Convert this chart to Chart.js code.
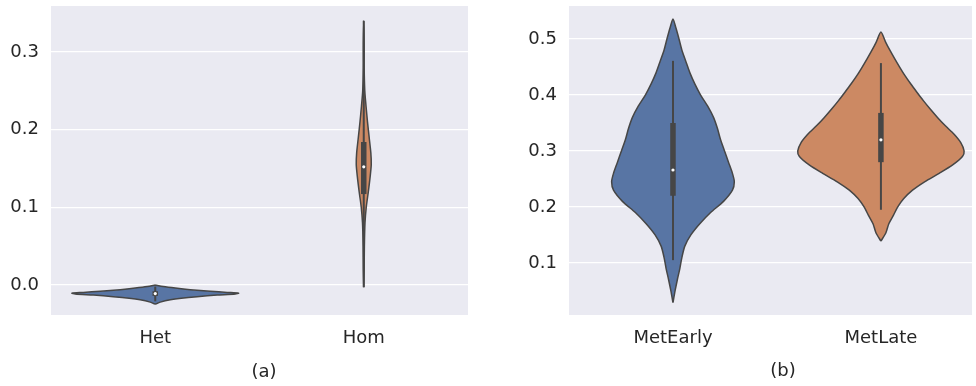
<!DOCTYPE html>
<html>
<head>
  <meta charset="utf-8">
  <title>Violin plots</title>
  <script src="https://cdn.jsdelivr.net/npm/chart.js@4.4.0/dist/chart.umd.min.js"></script>
  <style>
    body {
      margin: 0;
      background: #fff;
      width: 976px;
      height: 386px;
      overflow: hidden;
      position: relative;
      font-family: 'DejaVu Sans', sans-serif;
    }
    .panel {
      position: absolute;
      top: 0;
      height: 386px;
    }
    #panelA { left: 0; width: 480px; }
    #panelB { left: 490px; width: 486px; }
    .caption {
      position: absolute;
      font-size: 18px;
      line-height: 1;
      color: #262626;
      transform: translate(-50%, -50%);
      white-space: nowrap;
    }
  </style>
</head>
<body>
  <div class="panel" id="panelA"><canvas id="chartA"></canvas></div>
  <div class="panel" id="panelB"><canvas id="chartB"></canvas></div>
  <div class="caption" style="left:264px; top:371px;">(a)</div>
  <div class="caption" style="left:783px; top:370px;">(b)</div>

  <script>
    // (a) Het / Hom
    const catsA = ['Het', 'Hom'];
    const yTicksA = [0.0, 0.1, 0.2, 0.3];
    // violin outline: values and half widths (in category units)
    const hetValues = [0.0, -0.002, -0.004, -0.006, -0.008, -0.0095, -0.0105, -0.0115, -0.013, -0.015, -0.017, -0.019, -0.022, -0.0245];
    const hetWidths = [0, 0.038, 0.096, 0.168, 0.264, 0.345, 0.400, 0.384, 0.297, 0.201, 0.125, 0.072, 0.024, 0];
    const homValues = [-0.003, 0.02, 0.05, 0.08, 0.10, 0.12, 0.14, 0.155, 0.17, 0.19, 0.21, 0.23, 0.25, 0.28, 0.31, 0.34];
    const homWidths = [0, 0.002, 0.003, 0.006, 0.012, 0.022, 0.031, 0.036, 0.034, 0.026, 0.018, 0.011, 0.005, 0.002, 0.002, 0];
    // whisker low, q1, median, q3, whisker high
    const hetStats = [-0.021, -0.014, -0.011, -0.008, -0.002];
    const homStats = [-0.003, 0.117, 0.152, 0.184, 0.340];

    // (b) MetEarly / MetLate
    const catsB = ['MetEarly', 'MetLate'];
    const yTicksB = [0.1, 0.2, 0.3, 0.4, 0.5];
    const earlyValues = [0.029, 0.05, 0.07, 0.09, 0.11, 0.13, 0.15, 0.17, 0.19, 0.21, 0.23, 0.245, 0.26, 0.28, 0.30, 0.32, 0.34, 0.36, 0.38, 0.40, 0.42, 0.44, 0.46, 0.48, 0.50, 0.52, 0.536];
    const earlyWidths = [0, 0.010, 0.021, 0.033, 0.043, 0.057, 0.086, 0.129, 0.181, 0.243, 0.286, 0.295, 0.286, 0.267, 0.248, 0.229, 0.214, 0.195, 0.167, 0.133, 0.105, 0.081, 0.062, 0.043, 0.029, 0.014, 0];
    const lateValues = [0.139, 0.154, 0.17, 0.185, 0.20, 0.215, 0.23, 0.245, 0.26, 0.275, 0.29, 0.30, 0.315, 0.33, 0.345, 0.36, 0.375, 0.39, 0.405, 0.42, 0.435, 0.45, 0.465, 0.48, 0.495, 0.5125];
    const lateWidths = [0, 0.024, 0.038, 0.060, 0.081, 0.110, 0.152, 0.210, 0.280, 0.345, 0.392, 0.400, 0.384, 0.352, 0.310, 0.272, 0.237, 0.204, 0.173, 0.143, 0.115, 0.090, 0.066, 0.043, 0.022, 0];
    const earlyStats = [0.105, 0.220, 0.266, 0.350, 0.461];
    const lateStats = [0.195, 0.280, 0.320, 0.368, 0.457];

    const BLUE = '#5875a4';
    const ORANGE = '#cc8963';
    const EDGE = '#464646';
    const TEXT = '#262626';
    const FONT = { family: 'DejaVu Sans', size: 18 };

    // closed outline: up the right side, back down the left side
    function violinPoints(center, values, widths) {
      const pts = [];
      for (let i = 0; i < values.length; i++) pts.push({ x: center + widths[i], y: values[i] });
      for (let i = values.length - 2; i >= 0; i--) pts.push({ x: center - widths[i], y: values[i] });
      return pts;
    }

    function violinDatasets(center, values, widths, stats, color) {
      return [
        {
          data: violinPoints(center, values, widths),
          fill: 'shape',
          backgroundColor: color,
          borderColor: EDGE,
          borderWidth: 1.5,
          borderJoinStyle: 'round',
          tension: 0.25,
          pointRadius: 0,
          order: 3
        },
        {
          data: [{ x: center, y: stats[0] }, { x: center, y: stats[4] }],
          borderColor: EDGE,
          borderWidth: 2,
          pointRadius: 0,
          fill: false,
          order: 2
        },
        {
          data: [{ x: center, y: stats[1] }, { x: center, y: stats[3] }],
          borderColor: EDGE,
          borderWidth: 5.5,
          borderCapStyle: 'butt',
          pointRadius: 0,
          fill: false,
          order: 1
        },
        {
          data: [{ x: center, y: stats[2] }],
          showLine: false,
          pointRadius: 1.6,
          pointBorderWidth: 0,
          pointBackgroundColor: '#ffffff',
          order: 0
        }
      ];
    }

    // grey plot background behind the grid
    const plotBackground = {
      id: 'plotBackground',
      beforeDraw(chart) {
        const { ctx, chartArea: a } = chart;
        ctx.save();
        ctx.fillStyle = '#eaeaf2';
        ctx.fillRect(a.left, a.top, a.right - a.left, a.bottom - a.top);
        ctx.restore();
      }
    };

    function makeChart(id, cats, yTicks, yMin, yMax, xMax, axisWidth, rightPad, datasets) {
      return new Chart(document.getElementById(id), {
        type: 'line',
        data: { datasets: datasets },
        plugins: [plotBackground],
        options: {
          responsive: true,
          maintainAspectRatio: false,
          animation: false,
          events: [],
          layout: { padding: { top: 6, right: rightPad, left: 0, bottom: 0 } },
          plugins: { legend: { display: false }, tooltip: { enabled: false } },
          scales: {
            x: {
              type: 'linear',
              min: -0.5,
              max: xMax,
              grid: { display: false },
              border: { display: false },
              afterBuildTicks: s => { s.ticks = cats.map((c, i) => ({ value: i })); },
              ticks: {
                callback: v => cats[v],
                padding: 5,
                color: TEXT,
                font: FONT,
                maxRotation: 0,
                autoSkip: false
              },
              afterFit: s => { s.height = 71; s.paddingLeft = 0; s.paddingRight = 0; }
            },
            y: {
              type: 'linear',
              min: yMin,
              max: yMax,
              grid: { color: '#ffffff', lineWidth: 1.3, drawTicks: false },
              border: { display: false },
              afterBuildTicks: s => { s.ticks = yTicks.map(v => ({ value: v })); },
              ticks: {
                callback: v => Number(v).toFixed(1),
                padding: 12,
                color: TEXT,
                font: FONT
              },
              afterFit: s => { s.width = axisWidth; s.paddingTop = 0; s.paddingBottom = 0; }
            }
          }
        }
      });
    }

    makeChart('chartA', catsA, yTicksA, -0.0386, 0.359, 1.5, 51, 12,
      violinDatasets(0, hetValues, hetWidths, hetStats, BLUE)
        .concat(violinDatasets(1, homValues, homWidths, homStats, ORANGE)));

    makeChart('chartB', catsB, yTicksB, 0.007, 0.559, 1.438, 79, 0,
      violinDatasets(0, earlyValues, earlyWidths, earlyStats, BLUE)
        .concat(violinDatasets(1, lateValues, lateWidths, lateStats, ORANGE)));
  </script>
</body>
</html>
